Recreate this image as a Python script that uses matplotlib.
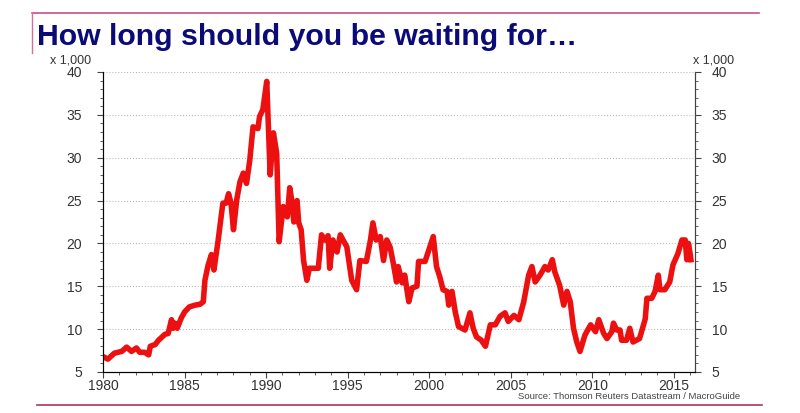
import matplotlib.pyplot as plt
from matplotlib.ticker import MultipleLocator
from matplotlib.lines import Line2D

# Valeurs (en milliers)
years = [1980.00, 1980.30, 1980.70, 1981.15, 1981.45, 1981.75, 1982.05, 1982.25, 1982.55, 1982.80,
         1982.90, 1983.20, 1983.40, 1983.80, 1984.00, 1984.20, 1984.30, 1984.40, 1984.55, 1984.80,
         1985.00, 1985.30, 1985.65, 1985.95, 1986.15, 1986.25, 1986.45, 1986.65, 1986.80, 1987.05,
         1987.35, 1987.55, 1987.70, 1987.85, 1988.00, 1988.20, 1988.40, 1988.60, 1988.80, 1989.00,
         1989.20, 1989.50, 1989.60, 1989.80, 1990.04, 1990.25, 1990.45, 1990.65, 1990.80, 1991.05,
         1991.30, 1991.45, 1991.60, 1991.70, 1991.90, 1992.00, 1992.15, 1992.30, 1992.50, 1992.65,
         1993.20, 1993.40, 1993.60, 1993.80, 1993.90, 1994.10, 1994.35, 1994.55, 1994.95, 1995.25,
         1995.55, 1995.75, 1996.15, 1996.40, 1996.55, 1996.75, 1997.00, 1997.20, 1997.40, 1997.60,
         1997.80, 1998.00, 1998.10, 1998.35, 1998.50, 1998.75, 1998.95, 1999.25, 1999.35, 1999.75,
         2000.25, 2000.45, 2000.65, 2000.85, 2001.10, 2001.20, 2001.40, 2001.60, 2001.80, 2002.20,
         2002.50, 2002.70, 2002.90, 2003.20, 2003.45, 2003.75, 2004.05, 2004.35, 2004.65, 2004.85,
         2005.20, 2005.50, 2005.80, 2006.10, 2006.30, 2006.50, 2006.80, 2007.10, 2007.30, 2007.55,
         2007.70, 2008.00, 2008.25, 2008.45, 2008.65, 2008.85, 2009.05, 2009.25, 2009.55, 2009.90,
         2010.20, 2010.40, 2010.70, 2010.90, 2011.20, 2011.30, 2011.50, 2011.70, 2011.80, 2012.10,
         2012.30, 2012.50, 2012.90, 2013.25, 2013.35, 2013.65, 2013.85, 2014.05, 2014.15, 2014.45,
         2014.75, 2014.95, 2015.25, 2015.50, 2015.70, 2015.80, 2015.90, 2016.00, 2016.05]
values = [6.8, 6.5, 7.2, 7.4, 7.9, 7.4, 7.8, 7.3, 7.3, 7.0,
          8.0, 8.2, 8.7, 9.4, 9.5, 11.1, 10.1, 10.7, 10.1, 11.3,
          12.0, 12.6, 12.8, 12.9, 13.2, 15.7, 17.5, 18.7, 16.9, 20.2,
          24.7, 24.7, 25.8, 24.7, 21.6, 25.1, 27.2, 28.2, 27.0, 29.7,
          33.6, 33.4, 34.8, 35.6, 38.9, 28.0, 32.9, 30.5, 20.2, 24.3,
          23.1, 26.5, 24.7, 22.5, 25.0, 22.4, 21.6, 18.0, 15.7, 17.1,
          17.1, 21.0, 20.4, 20.9, 17.1, 20.4, 19.0, 21.0, 19.6, 15.7,
          14.6, 18.0, 17.9, 20.4, 22.4, 20.4, 20.8, 18.0, 20.4, 19.6,
          17.7, 15.5, 17.3, 15.4, 16.3, 13.2, 14.8, 15.0, 17.9, 17.9,
          20.8, 17.3, 16.1, 14.6, 14.4, 12.8, 14.4, 12.0, 10.3, 9.9,
          11.9, 10.1, 9.1, 8.7, 8.0, 10.5, 10.5, 11.5, 11.9, 10.9,
          11.6, 11.1, 13.2, 16.3, 17.3, 15.5, 16.3, 17.3, 16.9, 18.1,
          16.7, 15.1, 12.8, 14.4, 13.2, 10.1, 8.5, 7.4, 9.3, 10.5,
          9.7, 11.1, 9.5, 8.9, 9.7, 10.7, 9.9, 9.9, 8.7, 8.7,
          10.1, 8.5, 8.9, 11.2, 13.6, 13.6, 14.4, 16.3, 14.6, 14.6,
          15.5, 17.5, 18.8, 20.4, 20.4, 18.1, 20.0, 18.8, 18.1]

title = "How long should you be waiting for…"
source = "Source: Thomson Reuters Datastream / MacroGuide"

plt.rcParams['font.family'] = ['Liberation Sans', 'DejaVu Sans']

fig = plt.figure(figsize=(8, 4.13), dpi=100)
ax = fig.add_axes([0.12875, 0.0993, 0.74, 0.7264])

ax.plot(years, values, color='#ec1010', linewidth=4.0, solid_joinstyle='round', zorder=3)

ax.set_xlim(1980, 2016.3)
ax.set_ylim(5, 40)
ax.xaxis.set_major_locator(MultipleLocator(5))
ax.xaxis.set_minor_locator(MultipleLocator(1))
ax.yaxis.set_major_locator(MultipleLocator(5))
ax.yaxis.set_minor_locator(MultipleLocator(1))
ax.grid(True, axis='y', linestyle=':', color='#bbbbbb', linewidth=0.8)
ax.spines['top'].set_visible(False)
for s in ['left', 'right', 'bottom']:
    ax.spines[s].set_color('#444444')
    ax.spines[s].set_linewidth(0.8)
ax.tick_params(which='both', direction='out', colors='#444444', labelsize=10)
ax.tick_params(axis='y', pad=11)
ax.tick_params(axis='x', pad=1)
ax.tick_params(which='major', length=4)
ax.tick_params(which='minor', length=2)

# axe de droite, mêmes graduations
ax2 = ax.twinx()
ax2.set_ylim(5, 40)
ax2.yaxis.set_major_locator(MultipleLocator(5))
ax2.yaxis.set_minor_locator(MultipleLocator(1))
ax2.spines['top'].set_visible(False)
ax2.spines['right'].set_color('#444444')
ax2.spines['right'].set_linewidth(0.8)
ax2.tick_params(which='both', direction='out', colors='#444444', labelsize=10, pad=8)
ax2.tick_params(which='major', length=4)
ax2.tick_params(which='minor', length=2)

for lab in ax.get_xticklabels() + ax.get_yticklabels() + ax2.get_yticklabels():
    lab.set_color('#333333')

fig.text(0.0625, 0.853, "x 1,000", fontsize=9, color='#333333', ha='left', va='center')
fig.text(0.866, 0.853, "x 1,000", fontsize=9, color='#333333', ha='left', va='center')

# cadre rose et titre
fig.add_artist(Line2D([0.04, 0.949], [0.969, 0.969], color='#c8508a', linewidth=1.2))
fig.add_artist(Line2D([0.04, 0.04], [0.969, 0.872], color='#d070a0', linewidth=1.0))
fig.add_artist(Line2D([0.046, 0.953], [0.019, 0.019], color='#b03060', linewidth=1.2))
fig.text(0.046, 0.892, title, fontsize=21.8, fontweight='bold', color='#0a0a78')
fig.text(0.925, 0.041, source, fontsize=6.8, color='#444444', ha='right', va='center')

fig.savefig('out.png', dpi=100)
